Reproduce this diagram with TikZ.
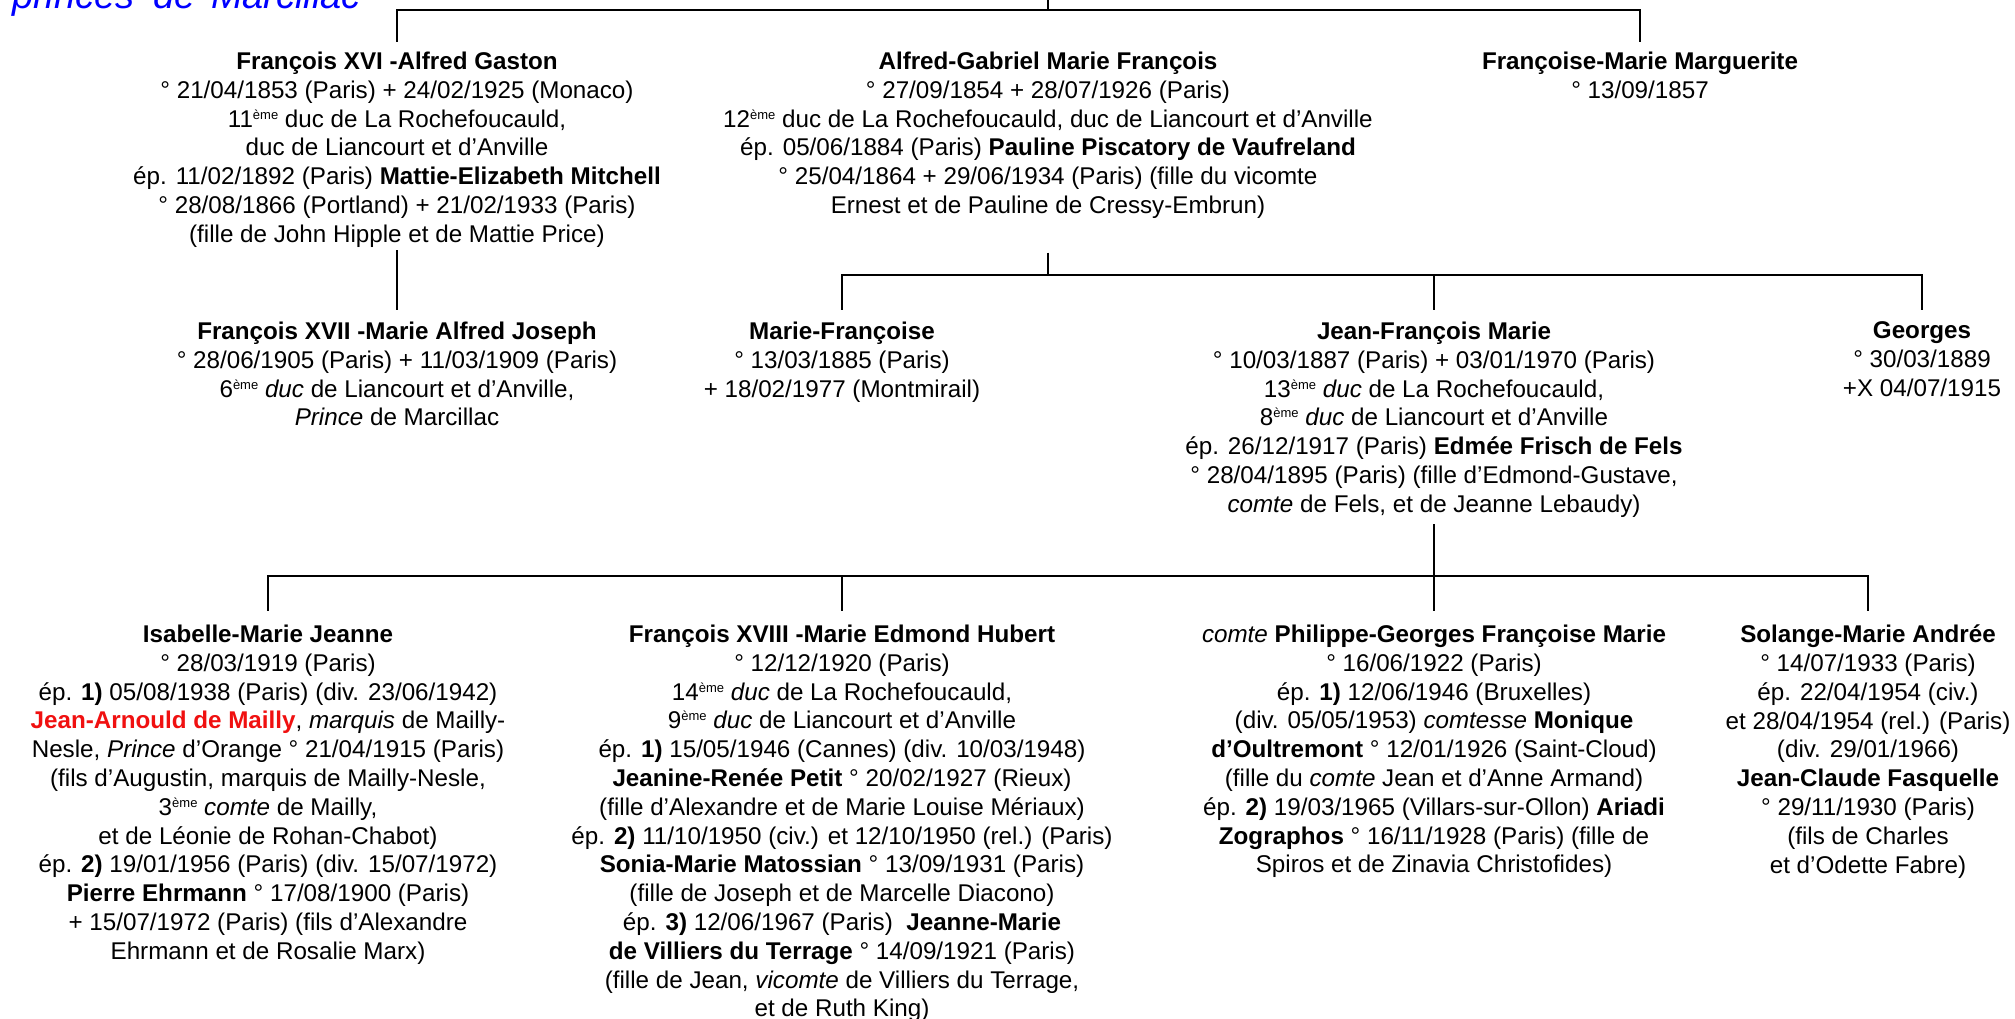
\documentclass[tikz,border=0pt]{standalone}
\usepackage{fontspec}
\setmainfont{Liberation Sans}
\definecolor{titleblue}{HTML}{0000FF}
\definecolor{namered}{HTML}{F01010}
\newcommand{\emex}{\raisebox{8pt}{\fontsize{13}{13}\selectfont ème}}
\begin{document}
\begin{tikzpicture}[x=1pt,y=-1pt,
  nd/.style={anchor=north, align=center, inner sep=0pt, font=\fontsize{24.2}{28.8}\selectfont},
  tl/.style={line width=2.6pt, line join=miter, line cap=butt}]
\useasboundingbox (0,0) rectangle (2015,1019);

\node[anchor=base west, inner sep=0pt, font=\fontsize{38}{38}\selectfont\itshape, text=titleblue] (title) at (12,8.5) {princes\hspace{0.5em}de\hspace{0.4em}Marcillac};

% ---- row 1
\node[nd] (F16) at (397,51.7) {\textbf{François XVI -Alfred Gaston}\\
° 21/04/1853 (Paris) + 24/02/1925 (Monaco)\\
11\emex{} duc de La Rochefoucauld,\\
duc de Liancourt et d’Anville\\
ép. 11/02/1892 (Paris) \textbf{Mattie-Elizabeth Mitchell}\\
° 28/08/1866 (Portland) + 21/02/1933 (Paris)\\
(fille de John Hipple et de Mattie Price)};

\node[nd] (AG) at (1048,51.7) {\textbf{Alfred-Gabriel Marie François}\\
° 27/09/1854 + 28/07/1926 (Paris)\\
12\emex{} duc de La Rochefoucauld, duc de Liancourt et d’Anville\\
ép. 05/06/1884 (Paris) \textbf{Pauline Piscatory de Vaufreland}\\
° 25/04/1864 + 29/06/1934 (Paris) (fille du vicomte\\
Ernest et de Pauline de Cressy-Embrun)};

\node[nd] (FM) at (1640,51.7) {\textbf{Françoise-Marie Marguerite}\\
° 13/09/1857};

% ---- row 2
\node[nd] (F17) at (397,321.7) {\textbf{François XVII -Marie Alfred Joseph}\\
° 28/06/1905 (Paris) + 11/03/1909 (Paris)\\
6\emex{} \textit{duc} de Liancourt et d’Anville,\\
\textit{Prince} de Marcillac};

\node[nd] (MF) at (842,321.7) {\textbf{Marie-Françoise}\\
° 13/03/1885 (Paris)\\
+ 18/02/1977 (Montmirail)};

\node[nd] (JF) at (1434,321.7) {\textbf{Jean-François Marie}\\
° 10/03/1887 (Paris) + 03/01/1970 (Paris)\\
13\emex{} \textit{duc} de La Rochefoucauld,\\
8\emex{} \textit{duc} de Liancourt et d’Anville\\
ép. 26/12/1917 (Paris) \textbf{Edmée Frisch de Fels}\\
° 28/04/1895 (Paris) (fille d’Edmond-Gustave,\\
\textit{comte} de Fels, et de Jeanne Lebaudy)};

\node[nd] (G) at (1922,321.7) {\textbf{Georges}\\
° 30/03/1889\\
+X 04/07/1915};

% ---- row 3
\node[nd] (IM) at (268,624.7) {\textbf{Isabelle-Marie Jeanne}\\
° 28/03/1919 (Paris)\\
ép. \textbf{1)} 05/08/1938 (Paris) (div. 23/06/1942)\\
{\color{namered}\textbf{Jean-Arnould de Mailly}}, \textit{marquis} de Mailly-\\
Nesle, \textit{Prince} d’Orange ° 21/04/1915 (Paris)\\
(fils d’Augustin, marquis de Mailly-Nesle,\\
3\emex{} \textit{comte} de Mailly,\\
et de Léonie de Rohan-Chabot)\\
ép. \textbf{2)} 19/01/1956 (Paris) (div. 15/07/1972)\\
\textbf{Pierre Ehrmann} ° 17/08/1900 (Paris)\\
+ 15/07/1972 (Paris) (fils d’Alexandre\\
Ehrmann et de Rosalie Marx)};

\node[nd] (F18) at (842,624.7) {\textbf{François XVIII -Marie Edmond Hubert}\\
° 12/12/1920 (Paris)\\
14\emex{} \textit{duc} de La Rochefoucauld,\\
9\emex{} \textit{duc} de Liancourt et d’Anville\\
ép. \textbf{1)} 15/05/1946 (Cannes) (div. 10/03/1948)\\
\textbf{Jeanine-Renée Petit} ° 20/02/1927 (Rieux)\\
(fille d’Alexandre et de Marie Louise Mériaux)\\
ép. \textbf{2)} 11/10/1950 (civ.) et 12/10/1950 (rel.) (Paris)\\
\textbf{Sonia-Marie Matossian} ° 13/09/1931 (Paris)\\
(fille de Joseph et de Marcelle Diacono)\\
ép. \textbf{3)} 12/06/1967 (Paris)~ \textbf{Jeanne-Marie}\\
\textbf{de Villiers du Terrage} ° 14/09/1921 (Paris)\\
(fille de Jean, \textit{vicomte} de Villiers du Terrage,\\
et de Ruth King)};

\node[nd] (PG) at (1434,624.7) {\textit{comte} \textbf{Philippe-Georges Françoise Marie}\\
° 16/06/1922 (Paris)\\
ép. \textbf{1)} 12/06/1946 (Bruxelles)\\
(div. 05/05/1953) \textit{comtesse} \textbf{Monique}\\
\textbf{d’Oultremont} ° 12/01/1926 (Saint-Cloud)\\
(fille du \textit{comte} Jean et d’Anne Armand)\\
ép. \textbf{2)} 19/03/1965 (Villars-sur-Ollon) \textbf{Ariadi}\\
\textbf{Zographos} ° 16/11/1928 (Paris) (fille de\\
Spiros et de Zinavia Christofides)};

\node[nd] (SM) at (1868,624.7) {\textbf{Solange-Marie Andrée}\\
° 14/07/1933 (Paris)\\
ép. 22/04/1954 (civ.)\\
et 28/04/1954 (rel.) (Paris)\\
(div. 29/01/1966)\\
\textbf{Jean-Claude Fasquelle}\\
° 29/11/1930 (Paris)\\
(fils de Charles\\
et d’Odette Fabre)};

% ---- connectors
\coordinate (up) at (1048,-2);
\coordinate (b1) at (1048,10);
\coordinate (b2) at (1048,275);
\coordinate (b3) at (1434,576);

\draw[tl] (up) -- (b1);
\draw[tl, shorten <=10pt, shorten >=10pt] (F16.north) |- (b1) -| (FM.north);
\draw[tl, shorten <=3pt, shorten >=12pt] (F16.south) -- (F17.north);

\draw[tl, shorten <=34pt] (AG.south) -- (b2);
\draw[tl, shorten <=12pt, shorten >=12pt] (MF.north) |- (b2) -| (G.north);
\draw[tl, shorten >=12pt] (b2 -| JF.north) -- (JF.north);

\draw[tl, shorten <=7pt, shorten >=14pt] (JF.south) -- (PG.north);
\draw[tl, shorten <=14pt, shorten >=14pt] (IM.north) |- (b3) -| (SM.north);
\draw[tl, shorten >=14pt] (b3 -| F18.north) -- (F18.north);
\end{tikzpicture}
\end{document}
